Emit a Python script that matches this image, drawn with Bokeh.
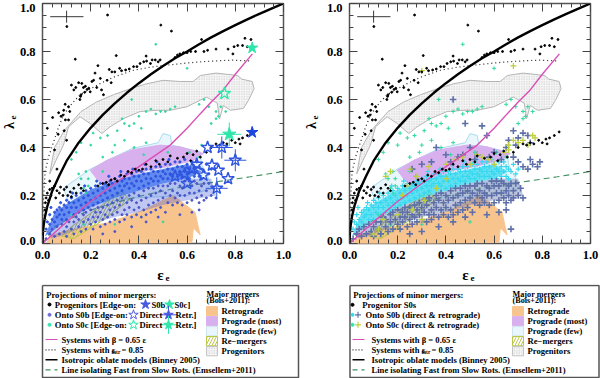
from bokeh.plotting import figure
from bokeh.models import Range1d, LinearAxis, FixedTicker, Label, PrintfTickFormatter
from bokeh.embed import file_html
from bokeh.resources import INLINE

FONT = "Liberation Serif"

eps_iso = [0,.002,.005,.01,.02,.04,.07,.1,.15,.2,.25,.3,.35,.4,.45,.5,.55,.6,.65,.7,.75,.8,.85,.9,.95,1]
lam_iso = [0,.049,.077,.11,.155,.218,.283,.344,.42,.482,.536,.584,.628,.668,.705,.74,.772,.80,.83,.859,.885,.91,.934,.957,.979,1]
eps_pink = [0,.05,.1,.198,.3,.378,.45,.53,.6,.654,.7,.75,.8,.871]
lam_pink = [0,.045,.09,.174,.25,.305,.355,.41,.48,.54,.59,.64,.705,.79]
eps_dot = [0,.003,.011,.025,.045,.065,.087,.12,.156,.2,.24,.3,.378,.45,.516,.6,.654,.72,.79,.868]
lam_dot = [0,.16,.3,.36,.42,.48,.535,.58,.62,.645,.667,.695,.722,.735,.743,.752,.757,.761,.764,.76]
eps_fs = [0,.05,.1,.2,.3,.4,.5,.6,.723,.862,1]
lam_fs = [0,.07,.098,.139,.17,.196,.219,.24,.257,.278,.3]

retro_x = [.018,.03,.087,.18,.267,.34,.405,.47,.53,.543,.584,.633,.646,.654,.626,.62,.3,.03]
retro_y = [.0,.03,.05,.07,.085,.11,.133,.165,.195,.2,.168,.13,.07,.036,.065,.005,.0,.0]
most_x = [.198,.267,.37,.488,.57,.668,.627,.516,.433,.336,.253,.225]
most_y = [.305,.347,.39,.41,.403,.375,.347,.32,.305,.27,.243,.27]
few_x = [.087,.198,.37,.48,.50,.53,.537,.654,.66,.71,.60,.38,.24,.11]
few_y = [.23,.31,.395,.42,.458,.45,.41,.382,.33,.23,.2,.19,.17,.17]
prog_x = [.03,.05,.09,.16,.225,.295,.365,.43,.50,.57,.625,.655,.72,.81,.827,.87,.878,.855,.834,.78,.75,.735,.725,.68,.64,.60,.53,.475,.405,.335,.28,.246,.198,.156,.108,.087,.053]
prog_y = [.29,.40,.47,.55,.59,.62,.645,.665,.68,.675,.675,.70,.71,.70,.685,.675,.645,.597,.563,.555,.575,.52,.585,.61,.59,.57,.555,.555,.55,.52,.486,.458,.5,.528,.486,.41,.34]
rem_x = [.08,.13,.24,.36,.33,.22,.12]
rem_y = [.03,.02,.09,.18,.22,.14,.07]
band_x = [.01,.05,.1,.2,.3,.4,.5,.6,.66,.6,.5,.4,.3,.2,.1,.04]
band_y = [.03,.13,.165,.225,.26,.29,.31,.33,.3,.27,.25,.22,.19,.15,.1,.05]
low_x = [.02,.1,.2,.3,.4,.5,.6,.7,.72,.66,.6,.5,.4,.3,.2,.1,.04]
low_y = [.04,.1,.15,.19,.22,.25,.27,.27,.2,.19,.18,.16,.13,.11,.08,.04,.02]

err_h_x = [.032,.17]; err_h_y = [.945,.945]
err_v_x = [.1,.1]; err_v_y = [.92,.97]

black = [(.101,.904),(.27,.952),(.491,.91),(.136,.768),(.306,.783),(.43,.781),(.535,.885),(.66,.85),(.84,.855),(.865,.85),
(.042,.525),(.067,.545),(.088,.555),(.094,.58),(.108,.57),(.113,.55),(.085,.535),(.095,.515),(.077,.53),(.108,.515),(.155,.6),(.16,.62),(.158,.613),(.13,.64),(.138,.65),(.163,.667),(.178,.655),(.185,.642),(.17,.65),(.192,.647),(.205,.675),(.218,.71),(.23,.741),(.198,.632),(.245,.64),(.253,.62),(.212,.68),(.24,.688),(.268,.68),(.285,.67),(.277,.725),(.288,.715),(.3,.715),(.32,.73),(.328,.72),(.36,.727),(.345,.723),(.378,.737),(.392,.737),(.405,.75),(.42,.757),(.432,.76),(.448,.75),(.468,.765),(.48,.757),(.488,.765),(.455,.765),(.12,.66),(.15,.67),(.175,.63),(.225,.65),
(.55,.775),(.56,.785),(.57,.79),(.585,.795),(.6,.795),(.615,.8),(.635,.8),(.67,.8),(.685,.805),(.72,.81),(.77,.81),(.795,.82),(.81,.825),(.83,.825),(.85,.82),(.79,.79),
(.02,.48),(.065,.455),(.09,.47),(.1,.43),(.05,.39),(.06,.31),(.03,.26),
(.01,.14),(.012,.17),(.015,.19),(.02,.21),(.025,.18),(.03,.225),(.035,.2),(.04,.23),(.05,.24),(.055,.19),(.06,.22),(.07,.21),(.075,.235),(.085,.2),(.09,.225),(.1,.235),(.105,.2),(.115,.215),(.12,.195),(.13,.23),(.14,.21),(.15,.245),(.16,.23),(.17,.22),(.23,.24),(.25,.25),(.265,.255),(.275,.245),(.285,.265),(.3,.27),(.31,.26),(.325,.285),(.34,.28),(.355,.3),(.37,.295),(.385,.31),(.4,.305),(.415,.31),(.43,.33),(.45,.32),(.47,.345),(.485,.33),(.5,.35),(.52,.34),(.53,.365),(.56,.355),(.585,.36),(.6,.375),(.615,.345),(.625,.37),(.64,.385),(.655,.36),(.68,.38),(.7,.4),(.72,.415),(.735,.41),(.75,.42),(.765,.415),(.785,.43),(.8,.42),(.815,.435),(.83,.44),(.85,.45),(.87,.465),(.82,.415)]

upper = [(.015,.06),(.02,.09),(.03,.12),(.03,.08),(.04,.1),(.05,.13),(.05,.09),(.06,.14),(.06,.11),(.07,.12),(.07,.15),(.08,.1),(.08,.14),(.09,.16),(.09,.12),(.1,.15),(.1,.18),(.1,.1),(.11,.13),(.11,.17),(.12,.19),(.12,.15),(.13,.12),(.13,.17),(.14,.2),(.14,.15),(.15,.18),(.15,.13),(.16,.21),(.16,.16),(.17,.19),(.17,.14),(.18,.22),(.18,.17),(.19,.2),(.19,.15),(.2,.23),(.2,.18),(.21,.21),(.21,.16),(.22,.24),(.22,.19),(.23,.22),(.23,.17),(.24,.2),(.24,.25),(.25,.23),(.25,.18),(.26,.21),(.26,.25),(.27,.19),(.27,.24),(.28,.22),(.28,.26),(.29,.2),(.29,.25),(.3,.23),(.3,.27),(.31,.21),(.31,.26),(.32,.24),(.32,.28),(.33,.22),(.33,.26),(.34,.27),(.34,.24),(.35,.29),(.35,.25),(.36,.23),(.36,.27),(.37,.29),(.37,.25),(.38,.28),(.38,.24),(.39,.3),(.39,.26),(.4,.23),(.4,.28),(.41,.3),(.41,.26),(.42,.24),(.42,.29),(.43,.27),(.43,.31),(.44,.25),(.44,.29),(.45,.31),(.45,.27),(.46,.3),(.46,.26),(.47,.28),(.47,.32),(.48,.26),(.48,.3),(.49,.28),(.49,.32),(.5,.3),(.5,.27),(.51,.33),(.51,.29),(.52,.27),(.52,.31),(.53,.33),(.53,.29),(.54,.31),(.54,.28),(.55,.34),(.55,.3),(.56,.32),(.56,.28),(.57,.3),(.57,.34),(.58,.32),(.58,.28),(.59,.3),(.59,.35),(.6,.33),(.6,.29),(.61,.31),(.61,.27),(.62,.34),(.62,.3),(.63,.32),(.63,.28),(.64,.3),(.64,.34),(.65,.32),(.65,.28),(.66,.31),(.66,.27),(.67,.3),(.68,.33),(.69,.29),(.7,.31),(.035,.15),(.075,.17),(.125,.21),(.175,.24),(.225,.26),(.275,.28),(.325,.3),(.375,.31),(.425,.33),(.475,.34),(.525,.35)]

lower = [(.015,.02),(.03,.04),(.04,.06),(.05,.03),(.06,.07),(.07,.04),(.08,.08),(.09,.05),(.1,.07),(.1,.03),(.11,.09),(.12,.06),(.13,.09),(.13,.04),(.14,.11),(.15,.07),(.15,.1),(.16,.05),(.17,.09),(.17,.12),(.18,.06),(.18,.13),(.19,.1),(.2,.08),(.2,.14),(.21,.11),(.21,.06),(.22,.13),(.22,.09),(.23,.15),(.23,.11),(.24,.07),(.24,.13),(.25,.1),(.25,.15),(.26,.12),(.26,.08),(.27,.16),(.27,.11),(.28,.14),(.28,.09),(.29,.12),(.29,.17),(.3,.1),(.3,.15),(.31,.13),(.31,.18),(.32,.09),(.32,.16),(.33,.12),(.33,.19),(.34,.14),(.34,.1),(.35,.17),(.35,.12),(.36,.2),(.36,.15),(.37,.11),(.37,.18),(.38,.14),(.38,.21),(.39,.17),(.39,.12),(.4,.2),(.4,.15),(.41,.11),(.41,.18),(.42,.22),(.42,.14),(.43,.19),(.43,.12),(.44,.16),(.44,.23),(.45,.13),(.45,.2),(.46,.17),(.46,.23),(.47,.14),(.47,.21),(.48,.18),(.48,.24),(.49,.15),(.49,.22),(.5,.19),(.5,.24),(.51,.13),(.51,.21),(.52,.17),(.52,.24),(.53,.2),(.53,.25),(.54,.16),(.54,.22),(.55,.19),(.55,.25),(.56,.21),(.56,.17),(.57,.24),(.57,.2),(.58,.16),(.58,.23),(.59,.26),(.59,.2),(.6,.17),(.6,.24),(.61,.21),(.61,.26),(.62,.18),(.62,.24),(.63,.21),(.63,.26),(.64,.19),(.64,.25),(.65,.22),(.65,.17),(.66,.24),(.66,.2),(.67,.18),(.67,.25),(.68,.22),(.68,.19),(.69,.25),(.7,.2),(.71,.23),(.72,.19),(.48,.11),(.43,.09),(.37,.07),(.3,.05),(.25,.04),(.57,.12),(.62,.13),(.65,.14)]

slate_extra = [(.4,.37),(.45,.36),(.5,.4),(.48,.5),(.55,.49),(.57,.45),(.53,.37),(.6,.38),(.36,.4),(.3,.33),(.26,.31),(.34,.34),(.42,.34),(.47,.37),(.52,.35),(.58,.36),(.63,.35),(.65,.4),(.68,.47),(.72,.46),(.75,.42),(.7,.44),(.66,.43),(.74,.45),(.69,.41),(.78,.32),(.79,.34),(.75,.35),(.74,.31),(.7,.34),(.68,.36),(.72,.32),(.76,.33),(.67,.06),(.43,.6)]

teal = [(.47,.83),(.6,.73),(.37,.6),(.4,.53),(.34,.5),(.36,.49),(.33,.52),(.31,.47),(.27,.45),(.24,.44),(.21,.46),(.2,.41),(.16,.42),(.14,.38),(.12,.35),(.18,.3),(.15,.29),(.16,.27),(.19,.27),(.17,.23),(.18,.21),(.19,.24),(.43,.55),(.45,.56),(.47,.54),(.49,.55),(.51,.55),(.53,.56),(.55,.57),(.65,.58),(.67,.6),(.69,.57),(.72,.52),(.73,.53),(.7,.5),(.74,.57),(.76,.55),(.72,.55),(.29,.38),(.34,.43),(.38,.4),(.42,.37),(.43,.42),(.3,.41),(.25,.36),(.38,.5),(.41,.48),(.25,.3),(.52,.38),(.65,.36),(.66,.41),(.61,.38),(.24,.2),(.3,.08),(.5,.09),(.12,.12),(.17,.08)]

yellow = [(.25,.31),(.28,.28),(.33,.32),(.4,.33),(.44,.35),(.47,.36),(.5,.33),(.53,.37),(.55,.36),(.58,.35),(.6,.33),(.66,.39),(.68,.43),(.7,.42),(.72,.43),(.74,.41),(.76,.45),(.77,.44),(.66,.41),(.64,.38),(.3,.72),(.68,.74),(.15,.28),(.17,.3),(.22,.2),(.24,.24),(.31,.18),(.36,.23),(.4,.27),(.12,.06),(.14,.1),(.2,.12),(.26,.14),(.3,.1),(.1,.04)]

filled_b_x = [.87]; filled_b_y = [.463]
filled_g_x = [.87]; filled_g_y = [.815]
hollow_bx = [.685,.744,.80,.703,.73,.668,.77,.723,.62,.59,.64,.55,.6]
hollow_by = [.40,.40,.347,.326,.305,.285,.27,.23,.31,.29,.33,.28,.25]
retr_bx = [.744,.80,.723]
retr_by = [.40,.347,.23]
hollow_gx = [.755]; hollow_gy = [.625]
retr_gx = [.775]; retr_gy = [.455]

BLUE = "#2f55e0"
DEEP = "#1c46dc"
TEAL = "#2fe6ab"
SLATE = "#5f70a8"
CYAN = "#35d8ee"
PINK = "#d94fb4"
GREEN = "#3f8f5f"
TICKS = [0, .2, .4, .6, .8, 1.0]
XMIN = [i/25 for i in range(26)]
YMIN = [i/20 for i in range(21)]

def xy(pts):
    return [a for a, _ in pts], [b for _, b in pts]

def at(left, top):
    return {"position": "absolute", "left": f"{left}px", "top": f"{top}px"}

def base(left, right, page_left):
    p = figure(frame_width=241, frame_height=240, min_border_left=left, min_border_right=right,
               min_border_top=3, min_border_bottom=41, x_range=Range1d(0, 1), y_range=Range1d(0, 1.0),
               output_backend="svg", toolbar_location=None, background_fill_color="white",
               x_axis_type=None, y_axis_type=None, styles=at(page_left, 0))
    p.grid.visible = False
    p.outline_line_color = "#555555"
    p.outline_line_width = 1.5
    for place, dim in (("below", "x"), ("above", "x"), ("left", "y"), ("right", "y")):
        ax = LinearAxis(ticker=FixedTicker(ticks=TICKS, minor_ticks=XMIN if dim == "x" else YMIN),
                        formatter=PrintfTickFormatter(format="%.1f"))
        ax.major_tick_in = 8; ax.major_tick_out = 0
        ax.minor_tick_in = 4; ax.minor_tick_out = 0
        ax.major_tick_line_color = "#444444"; ax.minor_tick_line_color = "#444444"
        ax.axis_line_color = None
        if place in ("below", "left"):
            ax.major_label_text_font = FONT
            ax.major_label_text_font_style = "bold"
            ax.major_label_text_font_size = "12.5px"
            ax.major_label_text_color = "black"
            ax.major_label_standoff = 7
            if place == "left":
                ax.major_label_overrides = {0: "", 1: ""}
        else:
            ax.major_label_text_font_size = "0px"
            ax.major_label_text_color = None
            ax.major_label_standoff = 0
        p.add_layout(ax, place)
    return p

def shapes(p):
    p.patch(few_x, few_y, fill_color="#e9f6fc", line_color="#a9dcf0", line_width=1)
    p.patch(retro_x, retro_y, fill_color="#f8c48e", line_color="#f8c48e")
    p.patch(most_x, most_y, fill_color="#d8b0ee", line_color="#d8b0ee")
    p.patch(prog_x, prog_y, fill_color="#f6f6f6", line_color="#b5b5b5", line_width=1,
            hatch_pattern="dot", hatch_color="#c4c4c4", hatch_scale=2.5, hatch_weight=0.6)
    p.patch(rem_x, rem_y, fill_color=None, line_color="#b9c84a", line_width=1,
            hatch_pattern="right_diagonal_line", hatch_color="#b9c84a", hatch_scale=6, hatch_weight=1)

def lines_top(p):
    p.line(eps_dot, lam_dot, line_color="#222222", line_dash="1 3", line_width=1.2)
    p.line(err_h_x, err_h_y, line_color="#222222", line_width=0.9)
    p.line(err_v_x, err_v_y, line_color="#222222", line_width=0.9)
    p.line(eps_pink, lam_pink, line_color=PINK, line_width=1.4)
    p.line(eps_iso, lam_iso, line_color="black", line_width=2.4)

def t(f, xp, yp, s, size="8.6px", angle=0, align="left"):
    f.add_layout(Label(x=xp, y=yp, text=s, text_font=FONT, text_font_style="bold", text_font_size=size,
                       text_color="black", text_baseline="middle", text_align=align, angle=angle, angle_units="deg"))

def overlay(page_left, frame_left, ex, lx):
    f = figure(frame_width=300, frame_height=284, x_range=Range1d(0, 300), y_range=Range1d(284, 0),
               output_backend="svg", toolbar_location=None, x_axis_type=None, y_axis_type=None,
               min_border=0, min_border_left=0, min_border_right=0, min_border_top=0, min_border_bottom=0,
               outline_line_color=None, background_fill_color=None, border_fill_color=None, styles=at(page_left, 0))
    f.grid.visible = False
    t(f, frame_left - 7, 7, "1.0", size="12.5px", align="right")
    t(f, frame_left - 7, 240, "0.0", size="12.5px", align="right")
    t(f, ex, 274, "ε", size="15px", align="center")
    t(f, ex + 7, 277, "e", size="9px", align="center")
    t(f, lx, 125, "λ", size="14px", angle=90, align="center")
    t(f, lx + 3, 117, "e", size="9px", angle=90, align="center")
    return f

# ---- left panel
p1 = base(42, 17, 0)
shapes(p1)
p1.line(eps_fs, lam_fs, line_color=GREEN, line_dash="6 4", line_width=1.1)
p1.patch(low_x, low_y, fill_color="#4a5fd8", fill_alpha=0.35, line_color=None)
p1.patch(band_x, band_y, fill_color="#3366ee", fill_alpha=0.75, line_color=None)
x, y = xy(teal); p1.scatter(x, y, size=1.8, color="#2fd9a0")
x, y = xy(upper); p1.scatter(x, y, size=2.2, color=BLUE)
x, y = xy(lower); p1.scatter(x, y, size=2.0, color="#4a55c8")
lines_top(p1)
x, y = xy(black); p1.scatter(x, y, size=1.9, color="black")
p1.scatter(hollow_bx, hollow_by, marker="star", size=13, fill_color=None, line_color=BLUE, line_width=1.4)
p1.scatter(retr_bx, retr_by, marker="cross", size=22, line_color=BLUE, line_width=1)
p1.scatter(hollow_gx, hollow_gy, marker="star", size=13, fill_color=None, line_color=TEAL, line_width=1.4)
p1.scatter(retr_gx, retr_gy, marker="star", size=14, color=TEAL)
p1.scatter(retr_gx, retr_gy, marker="cross", size=24, line_color=TEAL, line_width=1)
p1.scatter(filled_b_x, filled_b_y, marker="star", size=12, color=DEEP)
p1.scatter(filled_g_x, filled_g_y, marker="star", size=12, color=TEAL)

# ---- right panel
p2 = base(49, 10, 300)
shapes(p2)
p2.line(eps_fs, lam_fs, line_color=GREEN, line_dash="6 4", line_width=1.1)
p2.patch(low_x, low_y, fill_color=SLATE, fill_alpha=0.4, line_color=None)
p2.patch(band_x, band_y, fill_color=CYAN, fill_alpha=0.75, line_color=None)
x, y = xy(teal); p2.scatter(x, y, marker="cross", size=4, line_color="#2fd9a0", line_width=1)
x, y = xy(upper); p2.scatter(x, y, marker="cross", size=5, line_color=CYAN, line_width=1.2)
x, y = xy(lower); p2.scatter(x, y, marker="cross", size=6.5, line_color=SLATE, line_width=1.6)
x, y = xy(slate_extra); p2.scatter(x, y, marker="cross", size=6.5, line_color=SLATE, line_width=1.6)
x, y = xy(yellow); p2.scatter(x, y, marker="cross", size=6, line_color="#c0cf3a", line_width=1.3)
lines_top(p2)
x, y = xy(black); p2.scatter(x, y, size=1.9, color="black")

o1 = overlay(0, 42, 160, 9)
o2 = overlay(300, 49, 165, 11)

# ---- legends
def leg_fig(x0, x1, page_left):
    f = figure(frame_width=300, frame_height=94, x_range=Range1d(0, 300), y_range=Range1d(94, 0),
               output_backend="svg", toolbar_location=None, x_axis_type=None, y_axis_type=None,
               min_border=0, min_border_left=0, min_border_right=0, min_border_top=0, min_border_bottom=0,
               outline_line_color=None, styles=at(page_left, 284))
    f.grid.visible = False
    f.line([x0, x1, x1, x0, x0], [1, 1, 93, 93, 1], line_color="#555555", line_width=1.5)
    return f

def swatches(f, sx, tx):
    w = 11
    for yy, col, txt in ((26.7, "#f8c48e", "Retrograde"), (36.7, "#d8b0ee", "Prograde (most)"), (46.7, "#e9f6fc", "Prograde (few)")):
        f.quad(left=sx, right=sx + w, top=yy - 4.6, bottom=yy + 4.6, fill_color=col, line_color="#cfe5ee" if col == "#e9f6fc" else col)
        t(f, tx, yy - 0.4, txt)
    f.quad(left=sx, right=sx + w, top=52, bottom=61.3, fill_color=None, line_color="#b9c84a",
           hatch_pattern="right_diagonal_line", hatch_color="#b9c84a", hatch_scale=6, hatch_weight=1)
    t(f, tx, 56.3, "Re\u2212mergers")
    f.quad(left=sx, right=sx + w, top=62, bottom=71.3, fill_color="#f6f6f6", line_color="#c5c5c5",
           hatch_pattern="dot", hatch_color="#c4c4c4", hatch_scale=2.5, hatch_weight=0.6)
    t(f, tx, 66.3, "Progenitors")
    t(f, sx, 10.3, "Major mergers", size="8.2px")
    t(f, sx, 16.3, "(Bois+2011):", size="8.2px")

def line_rows(f, x0, x1, tx):
    f.line([x0, x1], [55, 55], line_color=PINK, line_width=1.2)
    t(f, tx, 55, "Systems with β = 0.65 ε")
    f.line([x0, x1], [65.3, 65.3], line_color="#222222", line_dash="1 2", line_width=1.2)
    t(f, tx, 65.3, "Systems with ε")
    t(f, tx + 50, 67, "intr", size="5.5px")
    t(f, tx + 60, 65.3, "= 0.85")
    f.line([x0, x1], [75.3, 75.3], line_color="black", line_width=1.4)
    t(f, tx, 75.3, "Isotropic oblate models (Binney 2005)")
    f.line([x0, x1], [85.3, 85.3], line_color=GREEN, line_dash="5 4", line_width=1.2)
    t(f, tx, 85.3, "Line isolating Fast from Slow Rots. (Emsellem+2011)")

l1 = leg_fig(42, 298, 0)
t(l1, 45.7, 10.3, "Projections of minor mergers:")
l1.scatter([49], [20], size=3, color="black")
t(l1, 54.3, 20.3, "Progenitors [Edge-on:")
l1.scatter([145], [20], marker="star", size=10, color="#4a58e0")
t(l1, 151, 20.3, "S0b")
l1.scatter([169], [20], marker="star", size=10, color=TEAL)
t(l1, 174, 20.3, "S0c]")
l1.scatter([49], [30.3], size=3, color="#6a6ad8")
t(l1, 54.3, 30.3, "Onto S0b [Edge-on:")
l1.scatter([133], [30.3], marker="star", size=10, fill_color=None, line_color="#5560e0", line_width=1)
t(l1, 139, 30.3, "Direct")
l1.scatter([168], [30.3], marker="star", size=10, color="#4a58e0")
l1.scatter([168], [30.3], marker="cross", size=18, line_color="#4a58e0", line_width=1)
t(l1, 175, 30.3, "Retr.]")
l1.scatter([49], [40.3], size=3, color=TEAL)
t(l1, 54.3, 40.3, "Onto S0c [Edge-on:")
l1.scatter([133], [40.3], marker="star", size=10, fill_color=None, line_color=TEAL, line_width=1)
t(l1, 139, 40.3, "Direct")
l1.scatter([168], [40.3], marker="star", size=10, color=TEAL)
l1.scatter([168], [40.3], marker="cross", size=18, line_color=TEAL, line_width=1)
t(l1, 175, 40.3, "Retr.]")
line_rows(l1, 45, 57, 61)
swatches(l1, 206, 221)

l2 = leg_fig(49.5, 298.5, 300)
t(l2, 52.7, 10.3, "Projections of minor mergers:")
l2.scatter([52], [20.3], size=3, color="black")
t(l2, 61.7, 20.3, "Progenitor S0s")
l2.scatter([52], [30.3], size=3, color=CYAN)
l2.scatter([57.5], [30.3], marker="cross", size=6, line_color=SLATE, line_width=1.2)
t(l2, 65, 30.3, "Onto S0b (direct & retrograde)")
l2.scatter([52], [40.3], size=3, color=TEAL)
l2.scatter([57.5], [40.3], marker="cross", size=6, line_color="#c0cf3a", line_width=1.2)
t(l2, 65, 40.3, "Onto S0c (direct & retrograde)")
line_rows(l2, 52, 64, 71)
swatches(l2, 212, 227)

open("out.html", "w").write(file_html([p1, p2, l1, l2, o1, o2], INLINE))
